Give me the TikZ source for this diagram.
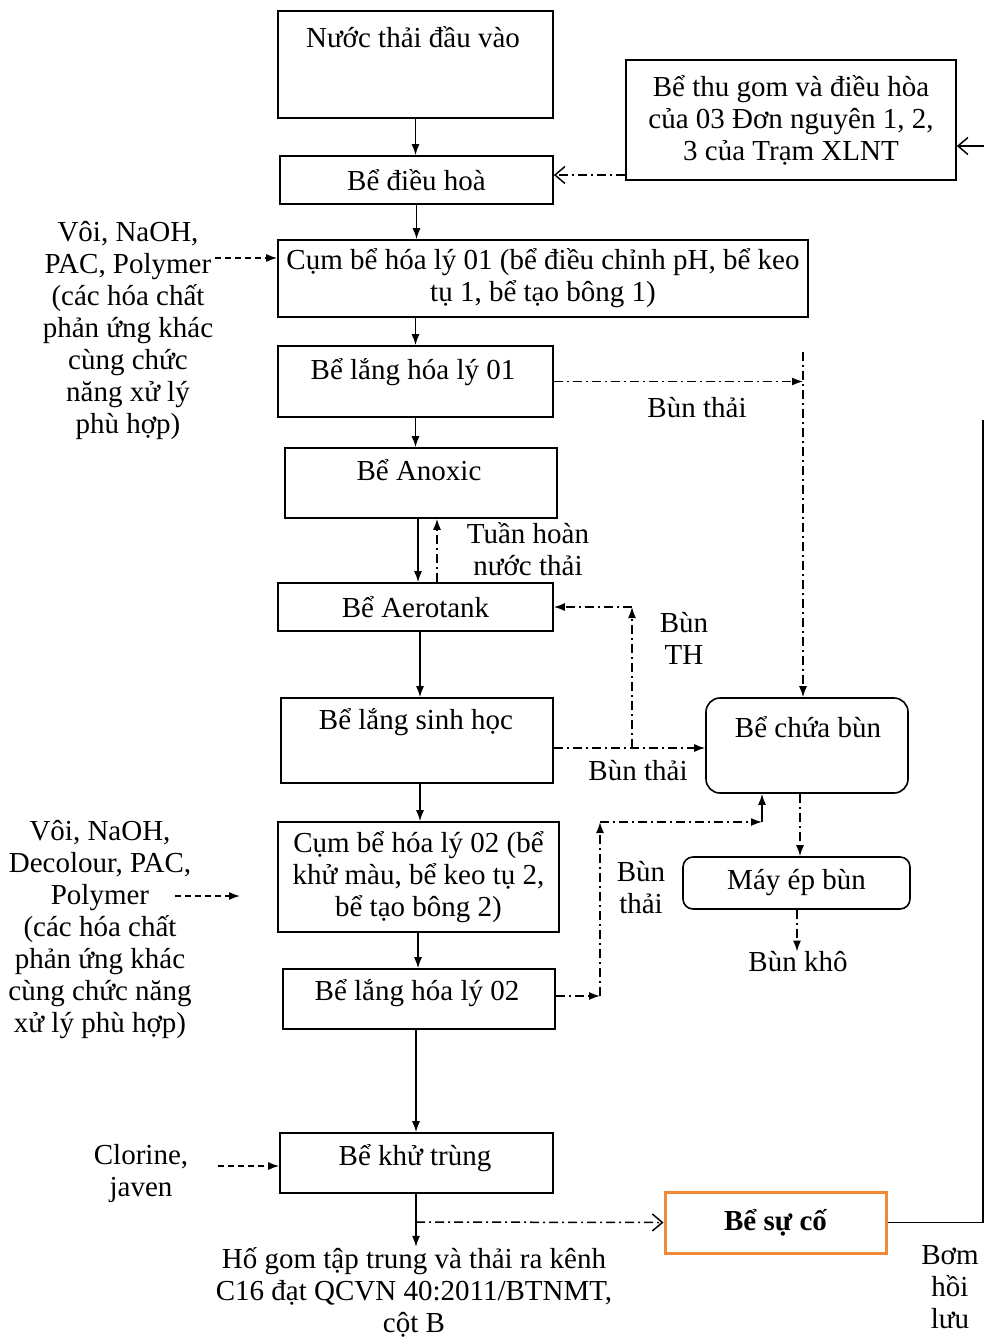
\documentclass[tikz,border=0pt]{standalone}
\usepackage{fontspec}
\setmainfont{Liberation Serif}
\usetikzlibrary{arrows.meta,calc}
\definecolor{orangebox}{RGB}{240,138,58}
\begin{document}
\begin{tikzpicture}[x=1pt,y=-1pt,
 every node/.style={font=\fontsize{29}{32}\selectfont, inner sep=0pt},
 box/.style={draw, line width=1.6pt, rectangle},
 rbox/.style={box, rounded corners=14pt},
 txt/.style={align=center},
 ln/.style={line width=1.5pt},
 arr/.style={ln, -{Latex[length=11pt,width=8pt]}},
 oarr/.style={ln, -{Straight Barb[length=10pt,width=17pt]}},
 dd/.style={dash pattern=on 9pt off 4pt on 2pt off 4pt},
 ds/.style={dash pattern=on 6pt off 4pt},
]
\useasboundingbox (0,0) rectangle (984,1338);

% boxes
\node[box, minimum width=275, minimum height=107] (A) at (415.5,64.5) {};
\node[txt] (At) at (413,37) {Nước thải đầu vào};
\node[box, minimum width=273, minimum height=48] (B) at (416.5,180) {Bể điều hoà};
\node[box, txt, minimum width=530, minimum height=77] (C) at (543,278.5) {Cụm bể hóa lý 01 (bể điều chỉnh pH, bể keo\\tụ 1, bể tạo bông 1)};
\node[box, minimum width=275, minimum height=71] (D) at (415.5,381.5) {};
\node[txt] (Dt) at (413,372) {Bể lắng hóa lý 01};
\node[box, minimum width=272, minimum height=70] (E) at (421,483) {};
\node[txt] (Et) at (419,470) {Bể Anoxic};
\node[box, minimum width=275, minimum height=48] (F) at (415.5,607) {Bể Aerotank};
\node[box, minimum width=272, minimum height=85] (G) at (417,740.5) {};
\node[txt] (Gt) at (416,722) {Bể lắng sinh học};
\node[box, txt, minimum width=281, minimum height=110] (H) at (418.5,877) {Cụm bể hóa lý 02 (bể\\khử màu, bể keo tụ 2,\\bể tạo bông 2)};
\node[box, minimum width=272, minimum height=60] (I) at (419,999) {};
\node[txt] (It) at (417,993) {Bể lắng hóa lý 02};
\node[box, minimum width=273, minimum height=60] (J) at (416.5,1163) {};
\node[txt] (Jt) at (415,1158) {Bể khử trùng};
\node[box, txt, minimum width=330, minimum height=120] (K) at (791,120) {Bể thu gom và điều hòa\\của 03 Đơn nguyên 1, 2,\\3 của Trạm XLNT};
\node[rbox, minimum width=202, minimum height=95] (L) at (807,745.5) {};
\node[txt] (Lt) at (808,727) {Bể chứa bùn};
\node[box, rounded corners=10pt, minimum width=227, minimum height=52] (M) at (796.5,883) {Máy ép bùn};
\node[draw=orangebox, line width=3pt, minimum width=221, minimum height=61] (N) at (775.5,1222.5) {\bfseries Bể sự cố};

% labels
\node[txt] (chem1) at (128,330) {Vôi, NaOH,\\PAC, Polymer\\(các hóa chất\\phản ứng khác\\cùng chức\\năng xử lý\\phù hợp)};
\node[txt] (chem2) at (100,930) {Vôi, NaOH,\\Decolour, PAC,\\Polymer\\(các hóa chất\\phản ứng khác\\cùng chức năng\\xử lý phù hợp)};
\node[txt] (clo) at (141,1174) {Clorine,\\javen};
\node[txt] (tuan) at (528,549) {Tuần hoàn\\nước thải};
\node[txt] (bt1) at (697,408) {Bùn thải};
\node[txt] (bth) at (684,638) {Bùn\\TH};
\node[txt] (bt2) at (638,771) {Bùn thải};
\node[txt] (bt3) at (641,888) {Bùn\\thải};
\node[txt] (kho) at (798,962) {Bùn khô};
\node[txt] (out) at (414,1292) {Hố gom tập trung và thải ra kênh\\C16 đạt QCVN 40:2011/BTNMT,\\cột B};
\node[txt] (bom) at (950,1287) {Bơm\\hồi\\lưu};

% helper coordinates
\coordinate (x418) at (418,0);
\coordinate (x437) at (437,0);
\coordinate (x420) at (420,0);
\coordinate (x416) at (416,0);
\coordinate (x800) at (800,0);
\coordinate (x797) at (797,0);
\coordinate (y175) at (0,175);
\coordinate (y748) at (0,748);
\coordinate (jb) at (416,1222);
\coordinate (re1) at (984,146);
\coordinate (re2) at (983,420);
\coordinate (lv) at (803,352);
\coordinate (bthc) at (632,748);
\coordinate (b3) at (600,996);
\coordinate (b3t) at (600,822);
\coordinate (b3r) at (762,822);
\coordinate (c1s) at (215,258);
\coordinate (c2s) at (175,896);
\coordinate (c2e) at (240,896);
\coordinate (cls) at (218,1166);

% main flow
\draw[arr] (A.south) -- (A.south |- B.north);
\draw[arr] (B.south) -- (B.south |- C.north);
\draw[arr] (D.north |- C.south) -- (D.north);
\draw[arr] (D.south) -- (D.south |- E.north);
\draw[arr] (E.south -| x418) -- (F.north -| x418);
\draw[arr, dd] (F.north -| x437) -- (E.south -| x437);
\draw[arr] (F.south -| x420) -- (G.north -| x420);
\draw[arr] (G.south -| x420) -- (H.north -| x420);
\draw[arr] (H.south -| x418) -- (I.north -| x418);
\draw[arr] (I.south -| x416) -- (J.north -| x416);
\draw[arr] (J.south -| x416) -- (out.north -| x416);
\draw[oarr, dd] (jb) -- (N.west);

% top right
\draw[oarr, dd] (K.west |- y175) -- (B.east |- y175);
\draw[oarr] (re1) -- (K.east |- re1);
\draw[ln] (N.east) -| (re2);

% sludge
\draw[arr, dd] (D.east) -- (D.east -| lv);
\draw[arr, dd] (lv) -- (lv |- L.north);
\draw[arr, dd] (G.east |- y748) -- (L.west |- y748);
\draw[arr, dd] (bthc) -- (bthc |- F.east);
\draw[arr, dd] (bthc |- F.east) -- (F.east);
\draw[arr, dd] (I.east |- b3) -- (b3);
\draw[arr, dd] (b3) -- (b3t);
\draw[arr, dd] (b3t) -- (b3r);
\draw[arr] (b3r) -- (b3r |- L.south);
\draw[arr, dd] (L.south -| x800) -- (M.north -| x800);
\draw[arr, dd] (M.south -| x797) -- (kho.north -| x797);

% chemicals
\draw[arr, ds] (c1s) -- (C.west |- c1s);
\draw[arr, ds] (c2s) -- (c2e);
\draw[arr, ds] (cls) -- (J.west |- cls);
\end{tikzpicture}
\end{document}
